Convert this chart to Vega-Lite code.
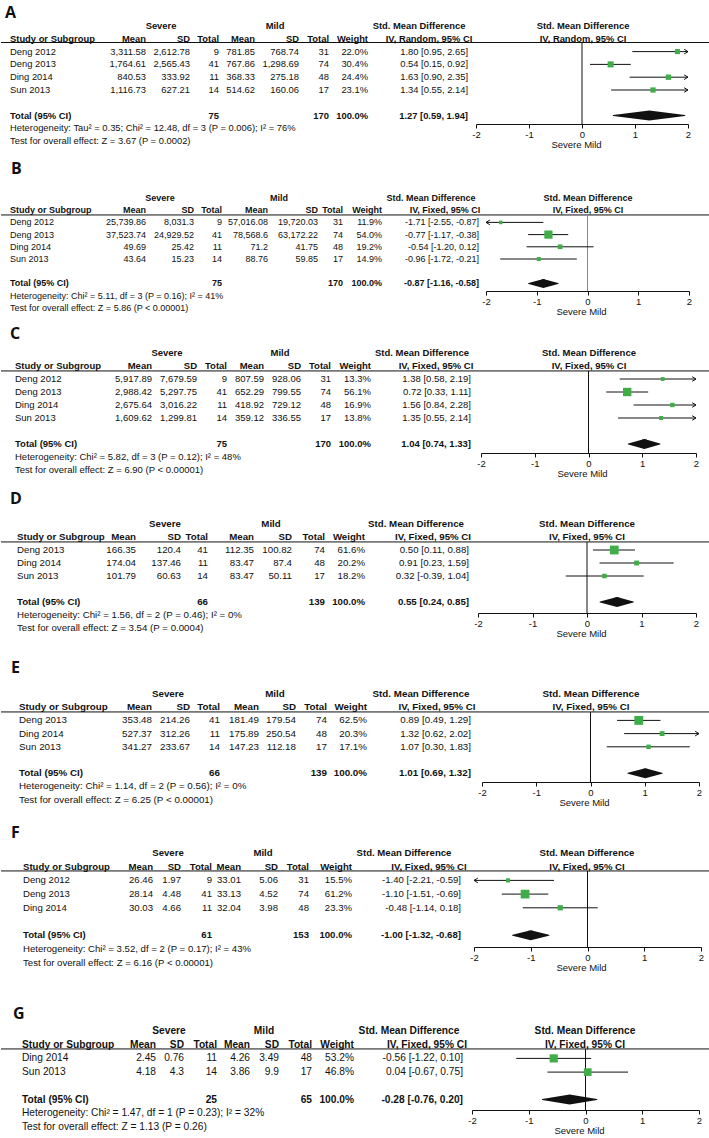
{
"$schema": "https://vega.github.io/schema/vega-lite/v6.json",
"background": "white",
"padding": 0,
"bounds": "flush",
"spacing": 0,
"config": {
 "view": {"stroke": null},
 "text": {"font": "Liberation Sans", "color": "#111"},
 "axis": {"labelFont": "Liberation Sans", "labelFontSize": 9.5, "labelColor": "#111", "titleFont": "Liberation Sans", "titleFontSize": 9.5, "titleFontWeight": "normal", "titleColor": "#111", "domainColor": "#111", "tickColor": "#111", "tickSize": 4, "labelPadding": 1, "titlePadding": 1, "grid": false, "labelFlush": false, "labelOverlap": false},
 "title": {"anchor": "start", "frame": "group", "font": "Open Sans", "fontSize": 16, "fontWeight": "bold", "color": "#111", "baseline": "alphabetic"}
},
"datasets": {
 "cols": [{"key":"study","i":0},{"key":"sMean","i":1},{"key":"sSD","i":2},{"key":"sN","i":3},{"key":"mMean","i":4},{"key":"mSD","i":5},{"key":"mN","i":6},{"key":"weight","i":7},{"key":"ci","i":8},{"key":"grpSevere","i":9},{"key":"grpMild","i":10},{"key":"grpSMD","i":11},{"key":"ciHead","i":12},{"key":"plotHead","i":13}],
 "tbl": [
  {"p":"A","r":0,"rt":"group","grpSevere":"Severe","grpMild":"Mild","grpSMD":"Std. Mean Difference","plotHead":"Std. Mean Difference"},
  {"p":"A","r":1,"rt":"header","study":"Study or Subgroup","sMean":"Mean","sSD":"SD","sN":"Total","mMean":"Mean","mSD":"SD","mN":"Total","weight":"Weight","ciHead":"IV, Random, 95% CI","plotHead":"IV, Random, 95% CI"},
  {"p":"A","r":2,"rt":"study","study":"Deng 2012","sMean":"3,311.58","sSD":"2,612.78","sN":"9","mMean":"781.85","mSD":"768.74","mN":"31","weight":"22.0%","ci":"1.80 [0.95, 2.65]"},
  {"p":"A","r":3,"rt":"study","study":"Deng 2013","sMean":"1,764.61","sSD":"2,565.43","sN":"41","mMean":"767.86","mSD":"1,298.69","mN":"74","weight":"30.4%","ci":"0.54 [0.15, 0.92]"},
  {"p":"A","r":4,"rt":"study","study":"Ding 2014","sMean":"840.53","sSD":"333.92","sN":"11","mMean":"368.33","mSD":"275.18","mN":"48","weight":"24.4%","ci":"1.63 [0.90, 2.35]"},
  {"p":"A","r":5,"rt":"study","study":"Sun 2013","sMean":"1,116.73","sSD":"627.21","sN":"14","mMean":"514.62","mSD":"160.06","mN":"17","weight":"23.1%","ci":"1.34 [0.55, 2.14]"},
  {"p":"A","r":7,"rt":"total","study":"Total (95% CI)","sN":"75","mN":"170","weight":"100.0%","ci":"1.27 [0.59, 1.94]"},
  {"p":"A","r":8,"rt":"het","study":"Heterogeneity: Tau² = 0.35; Chi² = 12.48, df = 3 (P = 0.006); I² = 76%"},
  {"p":"A","r":9,"rt":"test","study":"Test for overall effect: Z = 3.67 (P = 0.0002)"},

  {"p":"B","r":0,"rt":"group","grpSevere":"Severe","grpMild":"Mild","grpSMD":"Std. Mean Difference","plotHead":"Std. Mean Difference"},
  {"p":"B","r":1,"rt":"header","study":"Study or Subgroup","sMean":"Mean","sSD":"SD","sN":"Total","mMean":"Mean","mSD":"SD","mN":"Total","weight":"Weight","ciHead":"IV, Fixed, 95% CI","plotHead":"IV, Fixed, 95% CI"},
  {"p":"B","r":2,"rt":"study","study":"Deng 2012","sMean":"25,739.86","sSD":"8,031.3","sN":"9","mMean":"57,016.08","mSD":"19,720.03","mN":"31","weight":"11.9%","ci":"-1.71 [-2.55, -0.87]"},
  {"p":"B","r":3,"rt":"study","study":"Deng 2013","sMean":"37,523.74","sSD":"24,929.52","sN":"41","mMean":"78,568.6","mSD":"63,172.22","mN":"74","weight":"54.0%","ci":"-0.77 [-1.17, -0.38]"},
  {"p":"B","r":4,"rt":"study","study":"Ding 2014","sMean":"49.69","sSD":"25.42","sN":"11","mMean":"71.2","mSD":"41.75","mN":"48","weight":"19.2%","ci":"-0.54 [-1.20, 0.12]"},
  {"p":"B","r":5,"rt":"study","study":"Sun 2013","sMean":"43.64","sSD":"15.23","sN":"14","mMean":"88.76","mSD":"59.85","mN":"17","weight":"14.9%","ci":"-0.96 [-1.72, -0.21]"},
  {"p":"B","r":7,"rt":"total","study":"Total (95% CI)","sN":"75","mN":"170","weight":"100.0%","ci":"-0.87 [-1.16, -0.58]"},
  {"p":"B","r":8,"rt":"het","study":"Heterogeneity: Chi² = 5.11, df = 3 (P = 0.16); I² = 41%"},
  {"p":"B","r":9,"rt":"test","study":"Test for overall effect: Z = 5.86 (P < 0.00001)"},

  {"p":"C","r":0,"rt":"group","grpSevere":"Severe","grpMild":"Mild","grpSMD":"Std. Mean Difference","plotHead":"Std. Mean Difference"},
  {"p":"C","r":1,"rt":"header","study":"Study or Subgroup","sMean":"Mean","sSD":"SD","sN":"Total","mMean":"Mean","mSD":"SD","mN":"Total","weight":"Weight","ciHead":"IV, Fixed, 95% CI","plotHead":"IV, Fixed, 95% CI"},
  {"p":"C","r":2,"rt":"study","study":"Deng 2012","sMean":"5,917.89","sSD":"7,679.59","sN":"9","mMean":"807.59","mSD":"928.06","mN":"31","weight":"13.3%","ci":"1.38 [0.58, 2.19]"},
  {"p":"C","r":3,"rt":"study","study":"Deng 2013","sMean":"2,988.42","sSD":"5,297.75","sN":"41","mMean":"652.29","mSD":"799.55","mN":"74","weight":"56.1%","ci":"0.72 [0.33, 1.11]"},
  {"p":"C","r":4,"rt":"study","study":"Ding 2014","sMean":"2,675.64","sSD":"3,016.22","sN":"11","mMean":"418.92","mSD":"729.12","mN":"48","weight":"16.9%","ci":"1.56 [0.84, 2.28]"},
  {"p":"C","r":5,"rt":"study","study":"Sun 2013","sMean":"1,609.62","sSD":"1,299.81","sN":"14","mMean":"359.12","mSD":"336.55","mN":"17","weight":"13.8%","ci":"1.35 [0.55, 2.14]"},
  {"p":"C","r":7,"rt":"total","study":"Total (95% CI)","sN":"75","mN":"170","weight":"100.0%","ci":"1.04 [0.74, 1.33]"},
  {"p":"C","r":8,"rt":"het","study":"Heterogeneity: Chi² = 5.82, df = 3 (P = 0.12); I² = 48%"},
  {"p":"C","r":9,"rt":"test","study":"Test for overall effect: Z = 6.90 (P < 0.00001)"},

  {"p":"D","r":0,"rt":"group","grpSevere":"Severe","grpMild":"Mild","grpSMD":"Std. Mean Difference","plotHead":"Std. Mean Difference"},
  {"p":"D","r":1,"rt":"header","study":"Study or Subgroup","sMean":"Mean","sSD":"SD","sN":"Total","mMean":"Mean","mSD":"SD","mN":"Total","weight":"Weight","ciHead":"IV, Fixed, 95% CI","plotHead":"IV, Fixed, 95% CI"},
  {"p":"D","r":2,"rt":"study","study":"Deng 2013","sMean":"166.35","sSD":"120.4","sN":"41","mMean":"112.35","mSD":"100.82","mN":"74","weight":"61.6%","ci":"0.50 [0.11, 0.88]"},
  {"p":"D","r":3,"rt":"study","study":"Ding 2014","sMean":"174.04","sSD":"137.46","sN":"11","mMean":"83.47","mSD":"87.4","mN":"48","weight":"20.2%","ci":"0.91 [0.23, 1.59]"},
  {"p":"D","r":4,"rt":"study","study":"Sun 2013","sMean":"101.79","sSD":"60.63","sN":"14","mMean":"83.47","mSD":"50.11","mN":"17","weight":"18.2%","ci":"0.32 [-0.39, 1.04]"},
  {"p":"D","r":6,"rt":"total","study":"Total (95% CI)","sN":"66","mN":"139","weight":"100.0%","ci":"0.55 [0.24, 0.85]"},
  {"p":"D","r":7,"rt":"het","study":"Heterogeneity: Chi² = 1.56, df = 2 (P = 0.46); I² = 0%"},
  {"p":"D","r":8,"rt":"test","study":"Test for overall effect: Z = 3.54 (P = 0.0004)"},

  {"p":"E","r":0,"rt":"group","grpSevere":"Severe","grpMild":"Mild","grpSMD":"Std. Mean Difference","plotHead":"Std. Mean Difference"},
  {"p":"E","r":1,"rt":"header","study":"Study or Subgroup","sMean":"Mean","sSD":"SD","sN":"Total","mMean":"Mean","mSD":"SD","mN":"Total","weight":"Weight","ciHead":"IV, Fixed, 95% CI","plotHead":"IV, Fixed, 95% CI"},
  {"p":"E","r":2,"rt":"study","study":"Deng 2013","sMean":"353.48","sSD":"214.26","sN":"41","mMean":"181.49","mSD":"179.54","mN":"74","weight":"62.5%","ci":"0.89 [0.49, 1.29]"},
  {"p":"E","r":3,"rt":"study","study":"Ding 2014","sMean":"527.37","sSD":"312.26","sN":"11","mMean":"175.89","mSD":"250.54","mN":"48","weight":"20.3%","ci":"1.32 [0.62, 2.02]"},
  {"p":"E","r":4,"rt":"study","study":"Sun 2013","sMean":"341.27","sSD":"233.67","sN":"14","mMean":"147.23","mSD":"112.18","mN":"17","weight":"17.1%","ci":"1.07 [0.30, 1.83]"},
  {"p":"E","r":6,"rt":"total","study":"Total (95% CI)","sN":"66","mN":"139","weight":"100.0%","ci":"1.01 [0.69, 1.32]"},
  {"p":"E","r":7,"rt":"het","study":"Heterogeneity: Chi² = 1.14, df = 2 (P = 0.56); I² = 0%"},
  {"p":"E","r":8,"rt":"test","study":"Test for overall effect: Z = 6.25 (P < 0.00001)"},

  {"p":"F","r":0,"rt":"group","grpSevere":"Severe","grpMild":"Mild","grpSMD":"Std. Mean Difference","plotHead":"Std. Mean Difference"},
  {"p":"F","r":1,"rt":"header","study":"Study or Subgroup","sMean":"Mean","sSD":"SD","sN":"Total","mMean":"Mean","mSD":"SD","mN":"Total","weight":"Weight","ciHead":"IV, Fixed, 95% CI","plotHead":"IV, Fixed, 95% CI"},
  {"p":"F","r":2,"rt":"study","study":"Deng 2012","sMean":"26.46","sSD":"1.97","sN":"9","mMean":"33.01","mSD":"5.06","mN":"31","weight":"15.5%","ci":"-1.40 [-2.21, -0.59]"},
  {"p":"F","r":3,"rt":"study","study":"Deng 2013","sMean":"28.14","sSD":"4.48","sN":"41","mMean":"33.13","mSD":"4.52","mN":"74","weight":"61.2%","ci":"-1.10 [-1.51, -0.69]"},
  {"p":"F","r":4,"rt":"study","study":"Ding 2014","sMean":"30.03","sSD":"4.66","sN":"11","mMean":"32.04","mSD":"3.98","mN":"48","weight":"23.3%","ci":"-0.48 [-1.14, 0.18]"},
  {"p":"F","r":6,"rt":"total","study":"Total (95% CI)","sN":"61","mN":"153","weight":"100.0%","ci":"-1.00 [-1.32, -0.68]"},
  {"p":"F","r":7,"rt":"het","study":"Heterogeneity: Chi² = 3.52, df = 2 (P = 0.17); I² = 43%"},
  {"p":"F","r":8,"rt":"test","study":"Test for overall effect: Z = 6.16 (P < 0.00001)"},

  {"p":"G","r":0,"rt":"group","grpSevere":"Severe","grpMild":"Mild","grpSMD":"Std. Mean Difference","plotHead":"Std. Mean Difference"},
  {"p":"G","r":1,"rt":"header","study":"Study or Subgroup","sMean":"Mean","sSD":"SD","sN":"Total","mMean":"Mean","mSD":"SD","mN":"Total","weight":"Weight","ciHead":"IV, Fixed, 95% CI","plotHead":"IV, Fixed, 95% CI"},
  {"p":"G","r":2,"rt":"study","study":"Ding 2014","sMean":"2.45","sSD":"0.76","sN":"11","mMean":"4.26","mSD":"3.49","mN":"48","weight":"53.2%","ci":"-0.56 [-1.22, 0.10]"},
  {"p":"G","r":3,"rt":"study","study":"Sun 2013","sMean":"4.18","sSD":"4.3","sN":"14","mMean":"3.86","mSD":"9.9","mN":"17","weight":"46.8%","ci":"0.04 [-0.67, 0.75]"},
  {"p":"G","r":5,"rt":"total","study":"Total (95% CI)","sN":"25","mN":"65","weight":"100.0%","ci":"-0.28 [-0.76, 0.20]"},
  {"p":"G","r":6,"rt":"het","study":"Heterogeneity: Chi² = 1.47, df = 1 (P = 0.23); I² = 32%"},
  {"p":"G","r":7,"rt":"test","study":"Test for overall effect: Z = 1.13 (P = 0.26)"}
 ],
 "forest": [
  {"p":"A","r":2,"rt":"study","est":1.80,"lo":0.95,"hi":2.65,"w":22.0},
  {"p":"A","r":3,"rt":"study","est":0.54,"lo":0.15,"hi":0.92,"w":30.4},
  {"p":"A","r":4,"rt":"study","est":1.63,"lo":0.90,"hi":2.35,"w":24.4},
  {"p":"A","r":5,"rt":"study","est":1.34,"lo":0.55,"hi":2.14,"w":23.1},
  {"p":"A","r":7,"rt":"total","est":1.27,"lo":0.59,"hi":1.94},
  {"p":"B","r":2,"rt":"study","est":-1.71,"lo":-2.55,"hi":-0.87,"w":11.9},
  {"p":"B","r":3,"rt":"study","est":-0.77,"lo":-1.17,"hi":-0.38,"w":54.0},
  {"p":"B","r":4,"rt":"study","est":-0.54,"lo":-1.20,"hi":0.12,"w":19.2},
  {"p":"B","r":5,"rt":"study","est":-0.96,"lo":-1.72,"hi":-0.21,"w":14.9},
  {"p":"B","r":7,"rt":"total","est":-0.87,"lo":-1.16,"hi":-0.58},
  {"p":"C","r":2,"rt":"study","est":1.38,"lo":0.58,"hi":2.19,"w":13.3},
  {"p":"C","r":3,"rt":"study","est":0.72,"lo":0.33,"hi":1.11,"w":56.1},
  {"p":"C","r":4,"rt":"study","est":1.56,"lo":0.84,"hi":2.28,"w":16.9},
  {"p":"C","r":5,"rt":"study","est":1.35,"lo":0.55,"hi":2.14,"w":13.8},
  {"p":"C","r":7,"rt":"total","est":1.04,"lo":0.74,"hi":1.33},
  {"p":"D","r":2,"rt":"study","est":0.50,"lo":0.11,"hi":0.88,"w":61.6},
  {"p":"D","r":3,"rt":"study","est":0.91,"lo":0.23,"hi":1.59,"w":20.2},
  {"p":"D","r":4,"rt":"study","est":0.32,"lo":-0.39,"hi":1.04,"w":18.2},
  {"p":"D","r":6,"rt":"total","est":0.55,"lo":0.24,"hi":0.85},
  {"p":"E","r":2,"rt":"study","est":0.89,"lo":0.49,"hi":1.29,"w":62.5},
  {"p":"E","r":3,"rt":"study","est":1.32,"lo":0.62,"hi":2.02,"w":20.3},
  {"p":"E","r":4,"rt":"study","est":1.07,"lo":0.30,"hi":1.83,"w":17.1},
  {"p":"E","r":6,"rt":"total","est":1.01,"lo":0.69,"hi":1.32},
  {"p":"F","r":2,"rt":"study","est":-1.40,"lo":-2.21,"hi":-0.59,"w":15.5},
  {"p":"F","r":3,"rt":"study","est":-1.10,"lo":-1.51,"hi":-0.69,"w":61.2},
  {"p":"F","r":4,"rt":"study","est":-0.48,"lo":-1.14,"hi":0.18,"w":23.3},
  {"p":"F","r":6,"rt":"total","est":-1.00,"lo":-1.32,"hi":-0.68},
  {"p":"G","r":2,"rt":"study","est":-0.56,"lo":-1.22,"hi":0.10,"w":53.2},
  {"p":"G","r":3,"rt":"study","est":0.04,"lo":-0.67,"hi":0.75,"w":46.8},
  {"p":"G","r":5,"rt":"total","est":-0.28,"lo":-0.76,"hi":0.20}
 ]
},
"vconcat": [
 {
  "title": {"text": "A", "dx": 4, "offset": -21},
  "width": 709, "height": 158,
  "layer": [
   {"data": {"name": "tbl"},
    "transform": [{"filter": "datum.p == 'A'"}, {"fold": ["study","sMean","sSD","sN","mMean","mSD","mN","weight","ci","grpSevere","grpMild","grpSMD","ciHead","plotHead"], "as": ["key","value"]}, {"filter": "isValid(datum.value)"}, {"lookup": "key", "from": {"data": {"name": "cols"}, "key": "key", "fields": ["i"]}}],
    "encoding": {
     "x": {"field": "i", "type": "quantitative", "axis": null, "scale": {"domain": [0,1,2,3,4,5,6,7,8,9,10,11,12,13], "range": [9,145,189,218,254,298,328,367,467,160,274,418,428,582], "zero": false, "nice": false}},
     "y": {"field": "r", "type": "quantitative", "axis": null, "scale": {"domain": [0,10], "range": [26,154], "zero": false, "nice": false}},
     "text": {"field": "value", "type": "nominal"}
    },
    "layer": [
     {"transform": [{"filter": "datum.i == 0 && datum.rt != 'header' && datum.rt != 'total'"}], "mark": {"type": "text", "align": "left", "baseline": "middle", "fontSize": 9.4}},
     {"transform": [{"filter": "datum.i == 0 && (datum.rt == 'header' || datum.rt == 'total')"}], "mark": {"type": "text", "align": "left", "baseline": "middle", "fontSize": 9.4, "fontWeight": "bold"}},
     {"transform": [{"filter": "datum.i >= 1 && datum.i <= 8 && datum.rt == 'study'"}], "mark": {"type": "text", "align": "right", "baseline": "middle", "fontSize": 9.4}},
     {"transform": [{"filter": "datum.i >= 1 && datum.i <= 8 && datum.rt != 'study'"}], "mark": {"type": "text", "align": "right", "baseline": "middle", "fontSize": 9.4, "fontWeight": "bold"}},
     {"transform": [{"filter": "datum.i >= 9"}], "mark": {"type": "text", "align": "center", "baseline": "middle", "fontSize": 9.4, "fontWeight": "bold"}}
    ]
   },
   {"data": {"values": [{}]}, "mark": {"type": "rule", "color": "#111"}, "encoding": {"y": {"datum": 1.29, "type": "quantitative", "axis": null}}},
   {"data": {"name": "forest"},
    "transform": [{"filter": "datum.p == 'A'"}],
    "layer": [
     {"data": {"values": [{"p": "A"}]}, "mark": {"type": "rule", "color": "#111"}, "encoding": {"x": {"datum": 0, "type": "quantitative"}, "y": {"datum": 1.29, "type": "quantitative", "axis": null}, "y2": {"datum": 7.66}}},
     {"transform": [{"filter": "datum.rt == 'study'"}], "mark": {"type": "rule", "color": "#111"}, "encoding": {"x": {"field": "lo", "type": "quantitative"}, "x2": {"field": "hi"}, "y": {"field": "r", "type": "quantitative", "axis": null}}},
     {"transform": [{"filter": "datum.rt == 'study'"}], "mark": {"type": "point", "shape": "square", "filled": true, "color": "#3fae49", "opacity": 1}, "encoding": {
       "x": {"field": "est", "type": "quantitative", "scale": {"domain": [-2,2], "range": [475,687], "clamp": true, "zero": false, "nice": false}, "axis": {"values": [-2,-1,0,1,2], "offset": -34, "title": "Severe   Mild", "titleX": 575, "labelExpr": "'' + datum.value"}},
       "y": {"field": "r", "type": "quantitative", "axis": null},
       "size": {"field": "w", "type": "quantitative", "scale": {"domain": [2,100], "range": [0,127]}, "legend": null}}},
     {"transform": [{"filter": "datum.rt == 'study' && datum.hi > 2"}], "mark": {"type": "point", "shape": "M -1 -0.6 L 0 0 L -1 0.6", "filled": false, "color": "#111", "size": 60, "opacity": 1, "strokeWidth": 1}, "encoding": {"x": {"field": "hi", "type": "quantitative"}, "y": {"field": "r", "type": "quantitative", "axis": null}}},
     {"transform": [{"filter": "datum.rt == 'study' && datum.lo < -2"}], "mark": {"type": "point", "shape": "M 1 -0.6 L 0 0 L 1 0.6", "filled": false, "color": "#111", "size": 60, "opacity": 1, "strokeWidth": 1}, "encoding": {"x": {"field": "lo", "type": "quantitative"}, "y": {"field": "r", "type": "quantitative", "axis": null}}},
     {"transform": [{"filter": "datum.rt == 'total'"}, {"fold": ["lo","est","hi"], "as": ["pt","v"]}], "mark": {"type": "trail", "color": "#111"}, "encoding": {"x": {"field": "v", "type": "quantitative"}, "y": {"field": "r", "type": "quantitative", "axis": null}, "size": {"condition": {"test": "datum.pt == 'est'", "value": 10}, "value": 0}, "order": {"field": "v", "type": "quantitative"}}}
    ]
   }
  ],
  "resolve": {"scale": {"x": "independent"}}
 },
 {
  "title": {"text": "B", "dx": 10, "offset": -19},
  "width": 709, "height": 165,
  "layer": [
   {"data": {"name": "tbl"},
    "transform": [{"filter": "datum.p == 'B'"}, {"fold": ["study","sMean","sSD","sN","mMean","mSD","mN","weight","ci","grpSevere","grpMild","grpSMD","ciHead","plotHead"], "as": ["key","value"]}, {"filter": "isValid(datum.value)"}, {"lookup": "key", "from": {"data": {"name": "cols"}, "key": "key", "fields": ["i"]}}],
    "encoding": {
     "x": {"field": "i", "type": "quantitative", "axis": null, "scale": {"domain": [0,1,2,3,4,5,6,7,8,9,10,11,12,13], "range": [9,145,193,221,267,317,342,381,478,159,278,430,444,587], "zero": false, "nice": false}},
     "y": {"field": "r", "type": "quantitative", "axis": null, "scale": {"domain": [0,10], "range": [40,162], "zero": false, "nice": false}},
     "text": {"field": "value", "type": "nominal"}
    },
    "layer": [
     {"transform": [{"filter": "datum.i == 0 && datum.rt != 'header' && datum.rt != 'total'"}], "mark": {"type": "text", "align": "left", "baseline": "middle", "fontSize": 9}},
     {"transform": [{"filter": "datum.i == 0 && (datum.rt == 'header' || datum.rt == 'total')"}], "mark": {"type": "text", "align": "left", "baseline": "middle", "fontSize": 9, "fontWeight": "bold"}},
     {"transform": [{"filter": "datum.i >= 1 && datum.i <= 8 && datum.rt == 'study'"}], "mark": {"type": "text", "align": "right", "baseline": "middle", "fontSize": 9}},
     {"transform": [{"filter": "datum.i >= 1 && datum.i <= 8 && datum.rt != 'study'"}], "mark": {"type": "text", "align": "right", "baseline": "middle", "fontSize": 9, "fontWeight": "bold"}},
     {"transform": [{"filter": "datum.i >= 9"}], "mark": {"type": "text", "align": "center", "baseline": "middle", "fontSize": 9, "fontWeight": "bold"}}
    ]
   },
   {"data": {"values": [{}]}, "mark": {"type": "rule", "color": "#111"}, "encoding": {"y": {"datum": 1.39, "type": "quantitative", "axis": null}}},
   {"data": {"name": "forest"},
    "transform": [{"filter": "datum.p == 'B'"}],
    "layer": [
     {"data": {"values": [{"p": "B"}]}, "mark": {"type": "rule", "color": "#888"}, "encoding": {"x": {"datum": 0, "type": "quantitative"}, "y": {"datum": 1.39, "type": "quantitative", "axis": null}, "y2": {"datum": 7.62}}},
     {"transform": [{"filter": "datum.rt == 'study'"}], "mark": {"type": "rule", "color": "#111"}, "encoding": {"x": {"field": "lo", "type": "quantitative"}, "x2": {"field": "hi"}, "y": {"field": "r", "type": "quantitative", "axis": null}}},
     {"transform": [{"filter": "datum.rt == 'study'"}], "mark": {"type": "point", "shape": "square", "filled": true, "color": "#3fae49", "opacity": 1}, "encoding": {
       "x": {"field": "est", "type": "quantitative", "scale": {"domain": [-2,2], "range": [485,688], "clamp": true, "zero": false, "nice": false}, "axis": {"values": [-2,-1,0,1,2], "offset": -32, "title": "Severe   Mild", "titleX": 580, "labelExpr": "'' + datum.value"}},
       "y": {"field": "r", "type": "quantitative", "axis": null},
       "size": {"field": "w", "type": "quantitative", "scale": {"domain": [2,100], "range": [0,127]}, "legend": null}}},
     {"transform": [{"filter": "datum.rt == 'study' && datum.hi > 2"}], "mark": {"type": "point", "shape": "M -1 -0.6 L 0 0 L -1 0.6", "filled": false, "color": "#111", "size": 60, "opacity": 1, "strokeWidth": 1}, "encoding": {"x": {"field": "hi", "type": "quantitative"}, "y": {"field": "r", "type": "quantitative", "axis": null}}},
     {"transform": [{"filter": "datum.rt == 'study' && datum.lo < -2"}], "mark": {"type": "point", "shape": "M 1 -0.6 L 0 0 L 1 0.6", "filled": false, "color": "#111", "size": 60, "opacity": 1, "strokeWidth": 1}, "encoding": {"x": {"field": "lo", "type": "quantitative"}, "y": {"field": "r", "type": "quantitative", "axis": null}}},
     {"transform": [{"filter": "datum.rt == 'total'"}, {"fold": ["lo","est","hi"], "as": ["pt","v"]}], "mark": {"type": "trail", "color": "#111"}, "encoding": {"x": {"field": "v", "type": "quantitative"}, "y": {"field": "r", "type": "quantitative", "axis": null}, "size": {"condition": {"test": "datum.pt == 'est'", "value": 9}, "value": 0}, "order": {"field": "v", "type": "quantitative"}}}
    ]
   }
  ],
  "resolve": {"scale": {"x": "independent"}}
 },
 {
  "title": {"text": "C", "dx": 9, "offset": -19},
  "width": 709, "height": 165,
  "layer": [
   {"data": {"name": "tbl"},
    "transform": [{"filter": "datum.p == 'C'"}, {"fold": ["study","sMean","sSD","sN","mMean","mSD","mN","weight","ci","grpSevere","grpMild","grpSMD","ciHead","plotHead"], "as": ["key","value"]}, {"filter": "isValid(datum.value)"}, {"lookup": "key", "from": {"data": {"name": "cols"}, "key": "key", "fields": ["i"]}}],
    "encoding": {
     "x": {"field": "i", "type": "quantitative", "axis": null, "scale": {"domain": [0,1,2,3,4,5,6,7,8,9,10,11,12,13], "range": [14,151,196,226,263,300,330,370,470,166,279,421,435,588], "zero": false, "nice": false}},
     "y": {"field": "r", "type": "quantitative", "axis": null, "scale": {"domain": [0,10], "range": [30,160], "zero": false, "nice": false}},
     "text": {"field": "value", "type": "nominal"}
    },
    "layer": [
     {"transform": [{"filter": "datum.i == 0 && datum.rt != 'header' && datum.rt != 'total'"}], "mark": {"type": "text", "align": "left", "baseline": "middle", "fontSize": 9.5}},
     {"transform": [{"filter": "datum.i == 0 && (datum.rt == 'header' || datum.rt == 'total')"}], "mark": {"type": "text", "align": "left", "baseline": "middle", "fontSize": 9.5, "fontWeight": "bold"}},
     {"transform": [{"filter": "datum.i >= 1 && datum.i <= 8 && datum.rt == 'study'"}], "mark": {"type": "text", "align": "right", "baseline": "middle", "fontSize": 9.5}},
     {"transform": [{"filter": "datum.i >= 1 && datum.i <= 8 && datum.rt != 'study'"}], "mark": {"type": "text", "align": "right", "baseline": "middle", "fontSize": 9.5, "fontWeight": "bold"}},
     {"transform": [{"filter": "datum.i >= 9"}], "mark": {"type": "text", "align": "center", "baseline": "middle", "fontSize": 9.5, "fontWeight": "bold"}}
    ]
   },
   {"data": {"values": [{}]}, "mark": {"type": "rule", "color": "#111"}, "encoding": {"y": {"datum": 1.38, "type": "quantitative", "axis": null}}},
   {"data": {"name": "forest"},
    "transform": [{"filter": "datum.p == 'C'"}],
    "layer": [
     {"data": {"values": [{"p": "C"}]}, "mark": {"type": "rule", "color": "#111"}, "encoding": {"x": {"datum": 0, "type": "quantitative"}, "y": {"datum": 1.38, "type": "quantitative", "axis": null}, "y2": {"datum": 7.69}}},
     {"transform": [{"filter": "datum.rt == 'study'"}], "mark": {"type": "rule", "color": "#111"}, "encoding": {"x": {"field": "lo", "type": "quantitative"}, "x2": {"field": "hi"}, "y": {"field": "r", "type": "quantitative", "axis": null}}},
     {"transform": [{"filter": "datum.rt == 'study'"}], "mark": {"type": "point", "shape": "square", "filled": true, "color": "#3fae49", "opacity": 1}, "encoding": {
       "x": {"field": "est", "type": "quantitative", "scale": {"domain": [-2,2], "range": [480,695], "clamp": true, "zero": false, "nice": false}, "axis": {"values": [-2,-1,0,1,2], "offset": -35, "title": "Severe   Mild", "titleX": 581, "labelExpr": "'' + datum.value"}},
       "y": {"field": "r", "type": "quantitative", "axis": null},
       "size": {"field": "w", "type": "quantitative", "scale": {"domain": [2,100], "range": [0,127]}, "legend": null}}},
     {"transform": [{"filter": "datum.rt == 'study' && datum.hi > 2"}], "mark": {"type": "point", "shape": "M -1 -0.6 L 0 0 L -1 0.6", "filled": false, "color": "#111", "size": 60, "opacity": 1, "strokeWidth": 1}, "encoding": {"x": {"field": "hi", "type": "quantitative"}, "y": {"field": "r", "type": "quantitative", "axis": null}}},
     {"transform": [{"filter": "datum.rt == 'study' && datum.lo < -2"}], "mark": {"type": "point", "shape": "M 1 -0.6 L 0 0 L 1 0.6", "filled": false, "color": "#111", "size": 60, "opacity": 1, "strokeWidth": 1}, "encoding": {"x": {"field": "lo", "type": "quantitative"}, "y": {"field": "r", "type": "quantitative", "axis": null}}},
     {"transform": [{"filter": "datum.rt == 'total'"}, {"fold": ["lo","est","hi"], "as": ["pt","v"]}], "mark": {"type": "trail", "color": "#111"}, "encoding": {"x": {"field": "v", "type": "quantitative"}, "y": {"field": "r", "type": "quantitative", "axis": null}, "size": {"condition": {"test": "datum.pt == 'est'", "value": 10}, "value": 0}, "order": {"field": "v", "type": "quantitative"}}}
    ]
   }
  ],
  "resolve": {"scale": {"x": "independent"}}
 },
 {
  "title": {"text": "D", "dx": 9, "offset": -19},
  "width": 709, "height": 169,
  "layer": [
   {"data": {"name": "tbl"},
    "transform": [{"filter": "datum.p == 'D'"}, {"fold": ["study","sMean","sSD","sN","mMean","mSD","mN","weight","ci","grpSevere","grpMild","grpSMD","ciHead","plotHead"], "as": ["key","value"]}, {"filter": "isValid(datum.value)"}, {"lookup": "key", "from": {"data": {"name": "cols"}, "key": "key", "fields": ["i"]}}],
    "encoding": {
     "x": {"field": "i", "type": "quantitative", "axis": null, "scale": {"domain": [0,1,2,3,4,5,6,7,8,9,10,11,12,13], "range": [16,135,180,207,253,291,324,364,468,164,270,415,432,586], "zero": false, "nice": false}},
     "y": {"field": "r", "type": "quantitative", "axis": null, "scale": {"domain": [0,10], "range": [36,166], "zero": false, "nice": false}},
     "text": {"field": "value", "type": "nominal"}
    },
    "layer": [
     {"transform": [{"filter": "datum.i == 0 && datum.rt != 'header' && datum.rt != 'total'"}], "mark": {"type": "text", "align": "left", "baseline": "middle", "fontSize": 9.7}},
     {"transform": [{"filter": "datum.i == 0 && (datum.rt == 'header' || datum.rt == 'total')"}], "mark": {"type": "text", "align": "left", "baseline": "middle", "fontSize": 9.7, "fontWeight": "bold"}},
     {"transform": [{"filter": "datum.i >= 1 && datum.i <= 8 && datum.rt == 'study'"}], "mark": {"type": "text", "align": "right", "baseline": "middle", "fontSize": 9.7}},
     {"transform": [{"filter": "datum.i >= 1 && datum.i <= 8 && datum.rt != 'study'"}], "mark": {"type": "text", "align": "right", "baseline": "middle", "fontSize": 9.7, "fontWeight": "bold"}},
     {"transform": [{"filter": "datum.i >= 9"}], "mark": {"type": "text", "align": "center", "baseline": "middle", "fontSize": 9.7, "fontWeight": "bold"}}
    ]
   },
   {"data": {"values": [{}]}, "mark": {"type": "rule", "color": "#111"}, "encoding": {"y": {"datum": 1.38, "type": "quantitative", "axis": null}}},
   {"data": {"name": "forest"},
    "transform": [{"filter": "datum.p == 'D'"}],
    "layer": [
     {"data": {"values": [{"p": "D"}]}, "mark": {"type": "rule", "color": "#111"}, "encoding": {"x": {"datum": 0, "type": "quantitative"}, "y": {"datum": 1.38, "type": "quantitative", "axis": null}, "y2": {"datum": 6.85}}},
     {"transform": [{"filter": "datum.rt == 'study'"}], "mark": {"type": "rule", "color": "#111"}, "encoding": {"x": {"field": "lo", "type": "quantitative"}, "x2": {"field": "hi"}, "y": {"field": "r", "type": "quantitative", "axis": null}}},
     {"transform": [{"filter": "datum.rt == 'study'"}], "mark": {"type": "point", "shape": "square", "filled": true, "color": "#3fae49", "opacity": 1}, "encoding": {
       "x": {"field": "est", "type": "quantitative", "scale": {"domain": [-2,2], "range": [477,695], "clamp": true, "zero": false, "nice": false}, "axis": {"values": [-2,-1,0,1,2], "offset": -44, "title": "Severe   Mild", "titleX": 580, "labelExpr": "'' + datum.value"}},
       "y": {"field": "r", "type": "quantitative", "axis": null},
       "size": {"field": "w", "type": "quantitative", "scale": {"domain": [2,100], "range": [0,127]}, "legend": null}}},
     {"transform": [{"filter": "datum.rt == 'study' && datum.hi > 2"}], "mark": {"type": "point", "shape": "M -1 -0.6 L 0 0 L -1 0.6", "filled": false, "color": "#111", "size": 60, "opacity": 1, "strokeWidth": 1}, "encoding": {"x": {"field": "hi", "type": "quantitative"}, "y": {"field": "r", "type": "quantitative", "axis": null}}},
     {"transform": [{"filter": "datum.rt == 'study' && datum.lo < -2"}], "mark": {"type": "point", "shape": "M 1 -0.6 L 0 0 L 1 0.6", "filled": false, "color": "#111", "size": 60, "opacity": 1, "strokeWidth": 1}, "encoding": {"x": {"field": "lo", "type": "quantitative"}, "y": {"field": "r", "type": "quantitative", "axis": null}}},
     {"transform": [{"filter": "datum.rt == 'total'"}, {"fold": ["lo","est","hi"], "as": ["pt","v"]}], "mark": {"type": "trail", "color": "#111"}, "encoding": {"x": {"field": "v", "type": "quantitative"}, "y": {"field": "r", "type": "quantitative", "axis": null}, "size": {"condition": {"test": "datum.pt == 'est'", "value": 10}, "value": 0}, "order": {"field": "v", "type": "quantitative"}}}
    ]
   }
  ],
  "resolve": {"scale": {"x": "independent"}}
 },
 {
  "title": {"text": "E", "dx": 10, "offset": -19},
  "width": 709, "height": 165,
  "layer": [
   {"data": {"name": "tbl"},
    "transform": [{"filter": "datum.p == 'E'"}, {"fold": ["study","sMean","sSD","sN","mMean","mSD","mN","weight","ci","grpSevere","grpMild","grpSMD","ciHead","plotHead"], "as": ["key","value"]}, {"filter": "isValid(datum.value)"}, {"lookup": "key", "from": {"data": {"name": "cols"}, "key": "key", "fields": ["i"]}}],
    "encoding": {
     "x": {"field": "i", "type": "quantitative", "axis": null, "scale": {"domain": [0,1,2,3,4,5,6,7,8,9,10,11,12,13], "range": [18,151,189,219,258,295,326,366,470,167,274,420,436,590], "zero": false, "nice": false}},
     "y": {"field": "r", "type": "quantitative", "axis": null, "scale": {"domain": [0,10], "range": [37,169], "zero": false, "nice": false}},
     "text": {"field": "value", "type": "nominal"}
    },
    "layer": [
     {"transform": [{"filter": "datum.i == 0 && datum.rt != 'header' && datum.rt != 'total'"}], "mark": {"type": "text", "align": "left", "baseline": "middle", "fontSize": 9.8}},
     {"transform": [{"filter": "datum.i == 0 && (datum.rt == 'header' || datum.rt == 'total')"}], "mark": {"type": "text", "align": "left", "baseline": "middle", "fontSize": 9.8, "fontWeight": "bold"}},
     {"transform": [{"filter": "datum.i >= 1 && datum.i <= 8 && datum.rt == 'study'"}], "mark": {"type": "text", "align": "right", "baseline": "middle", "fontSize": 9.8}},
     {"transform": [{"filter": "datum.i >= 1 && datum.i <= 8 && datum.rt != 'study'"}], "mark": {"type": "text", "align": "right", "baseline": "middle", "fontSize": 9.8, "fontWeight": "bold"}},
     {"transform": [{"filter": "datum.i >= 9"}], "mark": {"type": "text", "align": "center", "baseline": "middle", "fontSize": 9.8, "fontWeight": "bold"}}
    ]
   },
   {"data": {"values": [{}]}, "mark": {"type": "rule", "color": "#111"}, "encoding": {"y": {"datum": 1.36, "type": "quantitative", "axis": null}}},
   {"data": {"name": "forest"},
    "transform": [{"filter": "datum.p == 'E'"}],
    "layer": [
     {"data": {"values": [{"p": "E"}]}, "mark": {"type": "rule", "color": "#111"}, "encoding": {"x": {"datum": 0, "type": "quantitative"}, "y": {"datum": 1.36, "type": "quantitative", "axis": null}, "y2": {"datum": 6.67}}},
     {"transform": [{"filter": "datum.rt == 'study'"}], "mark": {"type": "rule", "color": "#111"}, "encoding": {"x": {"field": "lo", "type": "quantitative"}, "x2": {"field": "hi"}, "y": {"field": "r", "type": "quantitative", "axis": null}}},
     {"transform": [{"filter": "datum.rt == 'study'"}], "mark": {"type": "point", "shape": "square", "filled": true, "color": "#3fae49", "opacity": 1}, "encoding": {
       "x": {"field": "est", "type": "quantitative", "scale": {"domain": [-2,2], "range": [481,698], "clamp": true, "zero": false, "nice": false}, "axis": {"values": [-2,-1,0,1,2], "offset": -40, "title": "Severe   Mild", "titleX": 583, "labelExpr": "'' + datum.value"}},
       "y": {"field": "r", "type": "quantitative", "axis": null},
       "size": {"field": "w", "type": "quantitative", "scale": {"domain": [2,100], "range": [0,127]}, "legend": null}}},
     {"transform": [{"filter": "datum.rt == 'study' && datum.hi > 2"}], "mark": {"type": "point", "shape": "M -1 -0.6 L 0 0 L -1 0.6", "filled": false, "color": "#111", "size": 60, "opacity": 1, "strokeWidth": 1}, "encoding": {"x": {"field": "hi", "type": "quantitative"}, "y": {"field": "r", "type": "quantitative", "axis": null}}},
     {"transform": [{"filter": "datum.rt == 'study' && datum.lo < -2"}], "mark": {"type": "point", "shape": "M 1 -0.6 L 0 0 L 1 0.6", "filled": false, "color": "#111", "size": 60, "opacity": 1, "strokeWidth": 1}, "encoding": {"x": {"field": "lo", "type": "quantitative"}, "y": {"field": "r", "type": "quantitative", "axis": null}}},
     {"transform": [{"filter": "datum.rt == 'total'"}, {"fold": ["lo","est","hi"], "as": ["pt","v"]}], "mark": {"type": "trail", "color": "#111"}, "encoding": {"x": {"field": "v", "type": "quantitative"}, "y": {"field": "r", "type": "quantitative", "axis": null}, "size": {"condition": {"test": "datum.pt == 'est'", "value": 10}, "value": 0}, "order": {"field": "v", "type": "quantitative"}}}
    ]
   }
  ],
  "resolve": {"scale": {"x": "independent"}}
 },
 {
  "title": {"text": "F", "dx": 10, "offset": -19},
  "width": 709, "height": 181,
  "layer": [
   {"data": {"name": "tbl"},
    "transform": [{"filter": "datum.p == 'F'"}, {"fold": ["study","sMean","sSD","sN","mMean","mSD","mN","weight","ci","grpSevere","grpMild","grpSMD","ciHead","plotHead"], "as": ["key","value"]}, {"filter": "isValid(datum.value)"}, {"lookup": "key", "from": {"data": {"name": "cols"}, "key": "key", "fields": ["i"]}}],
    "encoding": {
     "x": {"field": "i", "type": "quantitative", "axis": null, "scale": {"domain": [0,1,2,3,4,5,6,7,8,9,10,11,12,13], "range": [22,152,180,211,240,277,308,351,460,167,262,403,428,586], "zero": false, "nice": false}},
     "y": {"field": "r", "type": "quantitative", "axis": null, "scale": {"domain": [0,10], "range": [31,168], "zero": false, "nice": false}},
     "text": {"field": "value", "type": "nominal"}
    },
    "layer": [
     {"transform": [{"filter": "datum.i == 0 && datum.rt != 'header' && datum.rt != 'total'"}], "mark": {"type": "text", "align": "left", "baseline": "middle", "fontSize": 9.6}},
     {"transform": [{"filter": "datum.i == 0 && (datum.rt == 'header' || datum.rt == 'total')"}], "mark": {"type": "text", "align": "left", "baseline": "middle", "fontSize": 9.6, "fontWeight": "bold"}},
     {"transform": [{"filter": "datum.i >= 1 && datum.i <= 8 && datum.rt == 'study'"}], "mark": {"type": "text", "align": "right", "baseline": "middle", "fontSize": 9.6}},
     {"transform": [{"filter": "datum.i >= 1 && datum.i <= 8 && datum.rt != 'study'"}], "mark": {"type": "text", "align": "right", "baseline": "middle", "fontSize": 9.6, "fontWeight": "bold"}},
     {"transform": [{"filter": "datum.i >= 9"}], "mark": {"type": "text", "align": "center", "baseline": "middle", "fontSize": 9.6, "fontWeight": "bold"}}
    ]
   },
   {"data": {"values": [{}]}, "mark": {"type": "rule", "color": "#111"}, "encoding": {"y": {"datum": 1.31, "type": "quantitative", "axis": null}}},
   {"data": {"name": "forest"},
    "transform": [{"filter": "datum.p == 'F'"}],
    "layer": [
     {"data": {"values": [{"p": "F"}]}, "mark": {"type": "rule", "color": "#111"}, "encoding": {"x": {"datum": 0, "type": "quantitative"}, "y": {"datum": 1.31, "type": "quantitative", "axis": null}, "y2": {"datum": 6.86}}},
     {"transform": [{"filter": "datum.rt == 'study'"}], "mark": {"type": "rule", "color": "#111"}, "encoding": {"x": {"field": "lo", "type": "quantitative"}, "x2": {"field": "hi"}, "y": {"field": "r", "type": "quantitative", "axis": null}}},
     {"transform": [{"filter": "datum.rt == 'study'"}], "mark": {"type": "point", "shape": "square", "filled": true, "color": "#3fae49", "opacity": 1}, "encoding": {
       "x": {"field": "est", "type": "quantitative", "scale": {"domain": [-2,2], "range": [473,700], "clamp": true, "zero": false, "nice": false}, "axis": {"values": [-2,-1,0,1,2], "offset": -56, "title": "Severe   Mild", "titleX": 580, "labelExpr": "'' + datum.value"}},
       "y": {"field": "r", "type": "quantitative", "axis": null},
       "size": {"field": "w", "type": "quantitative", "scale": {"domain": [2,100], "range": [0,127]}, "legend": null}}},
     {"transform": [{"filter": "datum.rt == 'study' && datum.hi > 2"}], "mark": {"type": "point", "shape": "M -1 -0.6 L 0 0 L -1 0.6", "filled": false, "color": "#111", "size": 60, "opacity": 1, "strokeWidth": 1}, "encoding": {"x": {"field": "hi", "type": "quantitative"}, "y": {"field": "r", "type": "quantitative", "axis": null}}},
     {"transform": [{"filter": "datum.rt == 'study' && datum.lo < -2"}], "mark": {"type": "point", "shape": "M 1 -0.6 L 0 0 L 1 0.6", "filled": false, "color": "#111", "size": 60, "opacity": 1, "strokeWidth": 1}, "encoding": {"x": {"field": "lo", "type": "quantitative"}, "y": {"field": "r", "type": "quantitative", "axis": null}}},
     {"transform": [{"filter": "datum.rt == 'total'"}, {"fold": ["lo","est","hi"], "as": ["pt","v"]}], "mark": {"type": "trail", "color": "#111"}, "encoding": {"x": {"field": "v", "type": "quantitative"}, "y": {"field": "r", "type": "quantitative", "axis": null}, "size": {"condition": {"test": "datum.pt == 'est'", "value": 10}, "value": 0}, "order": {"field": "v", "type": "quantitative"}}}
    ]
   }
  ],
  "resolve": {"scale": {"x": "independent"}}
 },
 {
  "title": {"text": "G", "dx": 12, "offset": -19},
  "width": 709, "height": 135,
  "layer": [
   {"data": {"name": "tbl"},
    "transform": [{"filter": "datum.p == 'G'"}, {"fold": ["study","sMean","sSD","sN","mMean","mSD","mN","weight","ci","grpSevere","grpMild","grpSMD","ciHead","plotHead"], "as": ["key","value"]}, {"filter": "isValid(datum.value)"}, {"lookup": "key", "from": {"data": {"name": "cols"}, "key": "key", "fields": ["i"]}}],
    "encoding": {
     "x": {"field": "i", "type": "quantitative", "axis": null, "scale": {"domain": [0,1,2,3,4,5,6,7,8,9,10,11,12,13], "range": [21,155,183,216,249,278,311,353,462,168,263,408,426,584], "zero": false, "nice": false}},
     "y": {"field": "r", "type": "quantitative", "axis": null, "scale": {"domain": [0,10], "range": [28,165], "zero": false, "nice": false}},
     "text": {"field": "value", "type": "nominal"}
    },
    "layer": [
     {"transform": [{"filter": "datum.i == 0 && datum.rt != 'header' && datum.rt != 'total'"}], "mark": {"type": "text", "align": "left", "baseline": "middle", "fontSize": 10.2}},
     {"transform": [{"filter": "datum.i == 0 && (datum.rt == 'header' || datum.rt == 'total')"}], "mark": {"type": "text", "align": "left", "baseline": "middle", "fontSize": 10.2, "fontWeight": "bold"}},
     {"transform": [{"filter": "datum.i >= 1 && datum.i <= 8 && datum.rt == 'study'"}], "mark": {"type": "text", "align": "right", "baseline": "middle", "fontSize": 10.2}},
     {"transform": [{"filter": "datum.i >= 1 && datum.i <= 8 && datum.rt != 'study'"}], "mark": {"type": "text", "align": "right", "baseline": "middle", "fontSize": 10.2, "fontWeight": "bold"}},
     {"transform": [{"filter": "datum.i >= 9"}], "mark": {"type": "text", "align": "center", "baseline": "middle", "fontSize": 10.2, "fontWeight": "bold"}}
    ]
   },
   {"data": {"values": [{}]}, "mark": {"type": "rule", "color": "#111"}, "encoding": {"y": {"datum": 1.31, "type": "quantitative", "axis": null}}},
   {"data": {"name": "forest"},
    "transform": [{"filter": "datum.p == 'G'"}],
    "layer": [
     {"data": {"values": [{"p": "G"}]}, "mark": {"type": "rule", "color": "#111"}, "encoding": {"x": {"datum": 0, "type": "quantitative"}, "y": {"datum": 1.31, "type": "quantitative", "axis": null}, "y2": {"datum": 5.77}}},
     {"transform": [{"filter": "datum.rt == 'study'"}], "mark": {"type": "rule", "color": "#111"}, "encoding": {"x": {"field": "lo", "type": "quantitative"}, "x2": {"field": "hi"}, "y": {"field": "r", "type": "quantitative", "axis": null}}},
     {"transform": [{"filter": "datum.rt == 'study'"}], "mark": {"type": "point", "shape": "square", "filled": true, "color": "#3fae49", "opacity": 1}, "encoding": {
       "x": {"field": "est", "type": "quantitative", "scale": {"domain": [-2,2], "range": [471,698], "clamp": true, "zero": false, "nice": false}, "axis": {"values": [-2,-1,0,1,2], "offset": -28, "title": "Severe   Mild", "titleX": 578, "labelExpr": "'' + datum.value"}},
       "y": {"field": "r", "type": "quantitative", "axis": null},
       "size": {"field": "w", "type": "quantitative", "scale": {"domain": [2,100], "range": [0,127]}, "legend": null}}},
     {"transform": [{"filter": "datum.rt == 'study' && datum.hi > 2"}], "mark": {"type": "point", "shape": "M -1 -0.6 L 0 0 L -1 0.6", "filled": false, "color": "#111", "size": 60, "opacity": 1, "strokeWidth": 1}, "encoding": {"x": {"field": "hi", "type": "quantitative"}, "y": {"field": "r", "type": "quantitative", "axis": null}}},
     {"transform": [{"filter": "datum.rt == 'study' && datum.lo < -2"}], "mark": {"type": "point", "shape": "M 1 -0.6 L 0 0 L 1 0.6", "filled": false, "color": "#111", "size": 60, "opacity": 1, "strokeWidth": 1}, "encoding": {"x": {"field": "lo", "type": "quantitative"}, "y": {"field": "r", "type": "quantitative", "axis": null}}},
     {"transform": [{"filter": "datum.rt == 'total'"}, {"fold": ["lo","est","hi"], "as": ["pt","v"]}], "mark": {"type": "trail", "color": "#111"}, "encoding": {"x": {"field": "v", "type": "quantitative"}, "y": {"field": "r", "type": "quantitative", "axis": null}, "size": {"condition": {"test": "datum.pt == 'est'", "value": 10}, "value": 0}, "order": {"field": "v", "type": "quantitative"}}}
    ]
   }
  ],
  "resolve": {"scale": {"x": "independent"}}
 }
]
}
